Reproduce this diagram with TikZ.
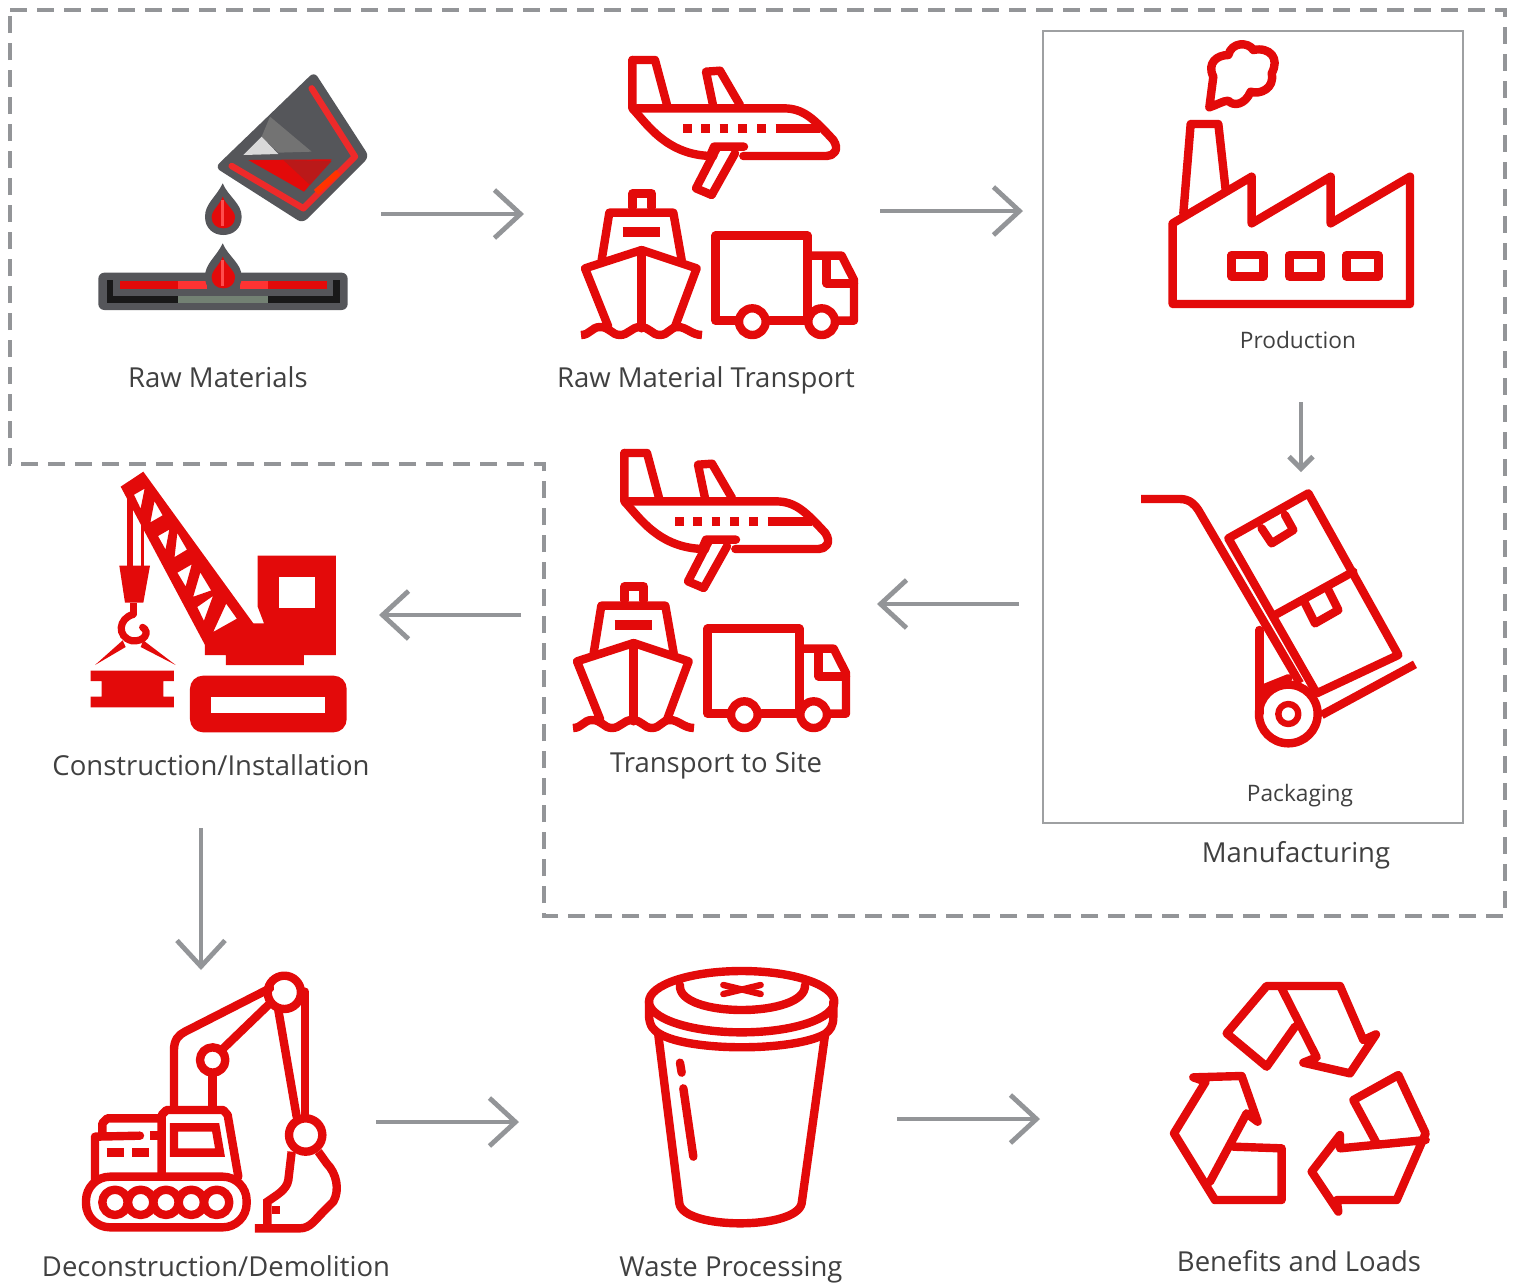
\documentclass[tikz,border=0pt]{standalone}
\usepackage{fontspec}
\setmainfont{Open Sans}
\usetikzlibrary{arrows.meta}
\definecolor{iconred}{HTML}{E30A0A}
\definecolor{stripered}{HTML}{EE2A2A}
\definecolor{flowgray}{HTML}{939598}
\definecolor{bucketgray}{HTML}{55565A}
\tikzset{
  icon/.style={draw=iconred,line width=4.2pt,line join=round,line cap=round},
  flowarrow/.style={draw=flowgray,line width=2.4pt,-{Straight Barb[length=13pt,width=24pt,line width=2.4pt]}},
  smallarrow/.style={draw=flowgray,line width=2.4pt,-{Straight Barb[length=6pt,width=12pt,line width=2.4pt]}},
  steplabel/.style={anchor=base,text=black!75,font=\fontsize{13.75}{16}\selectfont},
  sublabel/.style={anchor=base,text=black!75,font=\fontsize{11.35}{14}\selectfont},
  pics/transport/.style={code={
    % plane
    \draw[icon] (187,30)--(255,30)--(293,172);
    \draw[icon] (200,175)--(640,175) .. controls (700,175) and (730,205) .. (790,270) .. controls (810,300) and (790,318) .. (770,318)--(520,318);
    \draw[icon] (187,30)--(187,175) .. controls (230,220) and (290,318) .. (430,318);
    \draw[icon] (430,170)--(408,65)--(450,62)--(510,165);
    \draw[icon] (420,318)--(432,290)--(522,290);
    \draw[icon] (440,295)--(378,415)--(425,435)--(495,310);
    \draw[icon,line cap=butt] (617,235)--(750,235);
    \foreach \x in {352,407,462,518,575} {\draw[icon,line cap=butt] (\x-13,235)--(\x+13,235);}
    % ship
    \draw[icon] (188,472)--(188,430)--(245,430)--(245,472);
    \draw[icon] (95,630)--(118,488)--(310,488)--(335,630);
    \draw[icon,line cap=butt,line width=5pt] (158,547)--(270,547);
    \draw[icon] (115,830)--(45,655)--(215,600)--(380,655)--(315,830);
    \draw[icon] (215,600)--(215,835);
    \draw[icon,line cap=butt] (33,855) .. controls (60,855) and (65,831) .. (90,831) .. controls (120,831) and (125,855) .. (150,855) .. controls (175,855) and (185,831) .. (210,831) .. controls (240,831) and (245,855) .. (270,855) .. controls (295,855) and (300,831) .. (324,831) .. controls (350,831) and (365,855) .. (396,855);
    % truck
    \draw[icon] (500,812)--(437,812)--(437,557)--(712,557)--(712,800);
    \draw[icon] (600,812)--(705,812);
    \draw[icon] (712,617)--(815,617)--(852,690)--(852,812)--(805,812);
    \draw[icon] (770,630)--(770,700)--(852,700);
    \foreach \x in {547,755} {\draw[icon,fill=white] (\x,815) circle[radius=40];}
  }}
}
\begin{document}
\begin{tikzpicture}[x=0.5pt,y=-0.5pt]
  \useasboundingbox (0,0) rectangle (1517,1282);
  % dashed outline and manufacturing box
  \draw[flowgray,line width=2.2pt,dash pattern=on 8.5pt off 5pt] (10,10)--(1505,10)--(1505,916)--(544,916)--(544,464)--(10,464)--cycle;
  \draw[flowgray!90,line width=1.3pt] (1043,31) rectangle (1463,823);

  % raw materials
  \begin{scope}[shift={(80,60)},scale=1/3]
    \fill[bucketgray,rounded corners=3pt] (703,35)--(868,290)--(668,490)--(405,322)--cycle;
    \fill[black!55] (570,170)--(695,275)--(595,278)--(545,230)--cycle;
    \fill[black!15] (545,230)--(595,282)--(490,285)--cycle;
    \fill[iconred] (505,300)--(755,298)--(672,395)--cycle;
    \fill[red!70!black!90] (610,300)--(755,303)--(690,375)--cycle;
    \draw[stripered,line width=3.2pt,line cap=round,line join=round] (695,85)--(825,290)--(670,445)--(455,318);
    \draw[red!60!orange,line width=3.2pt] (775,337)--(708,397);
    \fill[bucketgray,rounded corners=3pt] (55,638) rectangle (803,750);
    \draw[black!90,line width=3.2pt] (90,660)--(90,718)--(770,718)--(770,660);
    \draw[green!10!black!55,line width=3.2pt] (295,718)--(565,718);
    \draw[iconred,line width=4pt] (120,675)--(295,675) (565,675)--(740,675);
    \draw[red!80!white,line width=4pt] (295,675)--(380,675) (480,675)--(565,675);
    \foreach \y in {0,180} {
      \fill[bucketgray] (428,370+\y) .. controls (410,410+\y) and (375,430+\y) .. (375,470+\y) .. controls (375,505+\y) and (400,525+\y) .. (430,525+\y) .. controls (460,525+\y) and (485,505+\y) .. (485,470+\y) .. controls (485,430+\y) and (445,410+\y) .. (428,370+\y);
      \fill[iconred] (428,410+\y) .. controls (420,435+\y) and (395,450+\y) .. (395,472+\y) .. controls (395,492+\y) and (410,505+\y) .. (430,505+\y) .. controls (450,505+\y) and (465,492+\y) .. (465,472+\y) .. controls (465,450+\y) and (437,435+\y) .. (428,410+\y);
      \draw[red!70!white,line width=1.5pt] (428,420+\y)--(428,498+\y);
    }
  \end{scope}
  \node[steplabel] (rawlabel) at (218,387) {Raw Materials};

  % transport, twice
  \begin{scope}[shift={(570,50)},scale=1/3]
    \pic[transform shape] {transport};
  \end{scope}
  \node[steplabel] (rawtransportlabel) at (706,387) {Raw Material Transport};
  \begin{scope}[shift={(562,443)},scale=1/3]
    \pic[transform shape] {transport};
  \end{scope}
  \node[steplabel] (sitetransportlabel) at (716,772) {Transport to Site};

  % factory
  \begin{scope}[shift={(1160,30)},scale=1/3]
    \draw[icon] (38,822)--(38,580)--(275,440)--(275,580)--(512,440)--(512,580)--(750,440)--(750,822)--cycle;
    \draw[icon] (70,550)--(92,282)--(175,282)--(197,480);
    \foreach \x in {215,388,560} {\draw[icon] (\x,675) rectangle (\x+95,740);}
    \draw[icon] (148,232)--(160,140) .. controls (140,100) and (170,75) .. (205,75) .. controls (215,35) and (265,35) .. (280,60) .. controls (330,50) and (360,85) .. (335,130) .. controls (345,175) and (300,195) .. (272,185) .. controls (255,225) and (220,230) .. (205,212) .. controls (190,212) and (170,225) .. (148,232);
  \end{scope}
  \node[sublabel] (productionlabel) at (1298,348) {Production};

  % hand truck
  \begin{scope}[shift={(1130,480)},scale=1/3]
    \draw[icon,line cap=butt] (33,57)--(150,57) .. controls (180,57) and (195,75) .. (205,90)--(510,610);
    \draw[icon] (295,175)--(535,40)--(805,525)--(560,640)--cycle;
    \draw[icon] (435,405)--(670,275);
    \draw[icon] (395,145)--(425,190)--(490,150)--(465,105);
    \draw[icon] (525,370)--(555,430)--(625,390)--(595,330);
    \draw[icon,line cap=butt] (855,553)--(575,705);
    \draw[icon] (388,450)--(388,700);
    \draw[icon] (388,630)--(475,595);
    \draw[icon] (475,702) circle[radius=88];
    \draw[icon,line width=3.2pt] (475,702) circle[radius=30];
  \end{scope}
  \node[sublabel] (packaginglabel) at (1300,801) {Packaging};
  \node[steplabel] (manufacturinglabel) at (1296,862) {Manufacturing};

  % crane
  \begin{scope}[shift={(80,465)},scale=1/3]
    \fill[iconred] (122,65)--(190,20)--(520,475)--(552,475)--(533,425)--(533,272)--(768,272)--(768,570)--(672,570)--(672,600)--(438,600)--(438,570)--(375,570)--(375,540)--cycle;
    \fill[white] (597,335) rectangle (705,430);
    \foreach \p in {{(158,88)--(198,65)--(183,140)},{(222,100)--(252,152)--(207,178)},{(230,212)--(272,188)--(258,262)},{(290,195)--(325,255)--(280,282)},{(288,322)--(340,292)--(318,372)},{(360,315)--(398,378)--(335,400)},{(348,425)--(405,385)--(372,475)},{(438,410)--(475,462)--(393,508)}}
      {\filldraw[fill=white,draw=iconred,line width=1pt] \p--cycle;}
    \fill[iconred] (140,90) rectangle (158,302);
    \fill[iconred] (182,130) rectangle (192,302);
    \fill[iconred] (118,302)--(210,302)--(190,413)--(135,413)--cycle;
    \fill[iconred] (150,413) rectangle (172,450);
    \draw[iconred,line width=3.6pt,line cap=round] (160,448) .. controls (115,460) and (110,515) .. (155,527) .. controls (195,532) and (210,500) .. (188,487);
    \fill[iconred] (45,600)--(128,526)--(137,546)--cycle;
    \fill[iconred] (287,600)--(190,526)--(182,546)--cycle;
    \fill[iconred] (32,617)--(282,617)--(282,648)--(250,648)--(250,695)--(282,695)--(282,727)--(32,727)--(32,695)--(65,695)--(65,648)--(32,648)--cycle;
    \fill[iconred,rounded corners=6.5pt] (330,632) rectangle (800,802);
    \fill[white] (392,697) rectangle (736,743);
  \end{scope}
  \node[steplabel] (constructionlabel) at (211,775) {Construction/Installation};

  % excavator
  \begin{scope}[shift={(70,960)},scale=1/3]
    \draw[icon] (312,440)--(312,270) .. controls (312,240) and (325,225) .. (345,215)--(600,85);
    \draw[icon] (460,265)--(600,130);
    \draw[icon] (428,345)--(428,440);
    \draw[icon] (625,150)--(680,470);
    \draw[icon] (705,95)--(705,470);
    \draw[icon] (643,97) circle[radius=50];
    \draw[icon] (428,300) circle[radius=38];
    \draw[icon] (707,525) circle[radius=50];
    \draw[icon,line join=miter,line cap=butt] (665,575)--(655,660) .. controls (650,690) and (620,705) .. (592,725)--(592,805);
    \draw[icon,line cap=butt] (555,805)--(690,805) .. controls (720,805) and (735,780) .. (760,755)--(790,725) .. controls (810,690) and (800,640) .. (770,610)--(745,575);
    \draw[icon,line cap=butt] (605,750)--(630,750);
    \draw[icon] (275,650)--(275,465)--(290,450)--(460,450)--(473,465)--(505,650);
    \draw[icon,line cap=butt,line join=miter] (312,502)--(437,502)--(450,578)--(312,578)--cycle;
    \draw[icon] (75,660)--(75,530)--(210,527);
    \draw[icon,line cap=butt] (240,527)--(265,527);
    \draw[icon] (97,520)--(97,490)--(112,475)--(275,475);
    \draw[icon,line cap=butt] (110,578)--(162,578);
    \draw[icon,line cap=butt] (187,578)--(238,578);
    \draw[icon,rounded corners=12pt] (48,650) rectangle (530,802);
    \foreach \x in {135,212,288,364,440} {\draw[icon] (\x,727) circle[radius=38];}
  \end{scope}
  \node[steplabel] (demolitionlabel) at (216,1276) {Deconstruction/Demolition};

  % waste bin
  \begin{scope}[shift={(630,960)},scale=1/3]
    \draw[icon] (335,125) ellipse[x radius=278,y radius=92];
    \draw[icon] (150,75) .. controls (140,175) and (530,175) .. (525,75);
    \draw[icon,line width=3.2pt] (280,75)--(392,102);
    \draw[icon,line width=3.2pt] (280,102)--(392,75);
    \draw[icon] (57,125)--(57,170) .. controls (60,200) and (70,210) .. (90,222) .. controls (180,275) and (490,275) .. (585,222) .. controls (600,210) and (610,200) .. (610,170)--(610,125);
    \draw[icon] (85,225)--(148,730) .. controls (160,810) and (500,810) .. (515,730)--(585,225);
    \draw[icon] (150,308)--(155,338);
    \draw[icon] (160,385)--(190,590);
  \end{scope}
  \node[steplabel] (wastelabel) at (731,1276) {Waste Processing};

  % recycling
  \begin{scope}[shift={(1160,970)},scale=1/3]
    \draw[icon] (365,55)--(470,262)--(430,278)--(570,310)--(648,193)--(610,210)--(540,48)--(320,48)--(200,190)--(320,290)--(405,170);
    \draw[icon] (650,520)--(580,390)--(715,315)--(797,490)--(710,690)--(530,690)--(535,725)--(455,605)--(540,495)--(540,535)--(797,510);
    \draw[icon] (150,635)--(260,430)--(293,455)--(245,318)--(100,322)--(137,335)--(42,490)--(165,690)--(365,690)--(365,535)--(220,530);
  \end{scope}
  \node[steplabel] (benefitslabel) at (1299,1271) {Benefits and Loads};

  % flow arrows
  \coordinate (rawout) at (381,214);
  \coordinate (rawtransportin) at (524,214);
  \coordinate (rawtransportout) at (880,211);
  \coordinate (manufacturingin) at (1023,211);
  \coordinate (productionout) at (1301,402);
  \coordinate (packagingin) at (1301,472);
  \coordinate (manufacturingout) at (1019,604);
  \coordinate (sitetransportin) at (877,604);
  \coordinate (sitetransportout) at (521,615);
  \coordinate (constructionin) at (379,615);
  \coordinate (constructionout) at (201,828);
  \coordinate (demolitionin) at (201,970);
  \coordinate (demolitionout) at (376,1122);
  \coordinate (wastein) at (519,1122);
  \coordinate (wasteout) at (897,1119);
  \coordinate (benefitsin) at (1040,1119);
  \foreach \a/\b in {rawout/rawtransportin, rawtransportout/manufacturingin, manufacturingout/sitetransportin, sitetransportout/constructionin, constructionout/demolitionin, demolitionout/wastein, wasteout/benefitsin}
    \draw[flowarrow] (\a)--(\b);
  \draw[smallarrow] (productionout)--(packagingin);
\end{tikzpicture}
\end{document}
